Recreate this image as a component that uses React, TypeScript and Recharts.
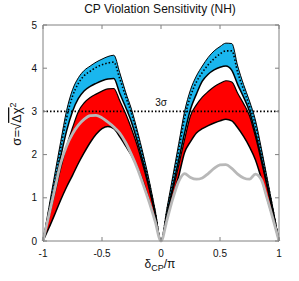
import React from 'react';
import { ComposedChart, Area, Line, XAxis, YAxis, ReferenceLine } from 'recharts';

const FONT = '"Liberation Sans", Arial, sans-serif';

// delta_CP / pi sample points
const DELTA = [
  -1, -0.95, -0.9, -0.85, -0.8, -0.75, -0.7, -0.65, -0.6, -0.55, -0.5, -0.45, -0.4, -0.35, -0.3, -0.25, -0.2,
  -0.15, -0.1, -0.05, 0, 0.05, 0.1, 0.15, 0.2, 0.25, 0.3, 0.35, 0.4, 0.45, 0.5, 0.55, 0.6, 0.65, 0.7, 0.75,
  0.8, 0.85, 0.9, 0.95, 1,
];

// upper edge of the blue band
const BLUE_TOP = [
  0, 0.78, 1.55, 2.3, 3.02, 3.5, 3.78, 3.95, 4.05, 4.14, 4.21, 4.27, 4.3, 3.9, 3.45, 3.05, 2.55, 2.0, 1.4, 0.72, 0,
  0.75, 1.5, 2.25, 3.0, 3.5, 3.82, 4.05, 4.25, 4.4, 4.5, 4.58, 4.57, 4.05, 3.62, 3.24, 2.8, 2.15, 1.45, 0.74, 0,
];

// dotted curve inside the blue band
const DOTTED = [
  0, 0.7, 1.42, 2.15, 2.85, 3.35, 3.65, 3.83, 3.93, 4.02, 4.08, 4.12, 4.14, 3.76, 3.35, 2.95, 2.46, 1.93, 1.34, 0.68, 0,
  0.7, 1.4, 2.1, 2.85, 3.35, 3.68, 3.9, 4.08, 4.22, 4.33, 4.4, 4.4, 3.9, 3.5, 3.12, 2.68, 2.06, 1.4, 0.71, 0,
];

// solid black curve = lower edge of the blue band
const BLUE_BOTTOM = [
  0, 0.65, 1.3, 1.95, 2.55, 3.0, 3.3, 3.48, 3.58, 3.65, 3.71, 3.75, 3.76, 3.42, 3.1, 2.75, 2.3, 1.8, 1.25, 0.64, 0,
  0.62, 1.25, 1.87, 2.5, 3.05, 3.4, 3.7, 3.86, 3.96, 4.02, 4.05, 3.95, 3.62, 3.33, 3.0, 2.5, 1.92, 1.3, 0.66, 0,
];

const RED_TOP = [
  0, 0.55, 1.1, 1.68, 2.2, 2.62, 3.0, 3.2, 3.32, 3.4, 3.47, 3.52, 3.53, 3.25, 2.95, 2.6, 2.2, 1.72, 1.2, 0.62, 0,
  0.58, 1.17, 1.75, 2.35, 2.9, 3.15, 3.33, 3.46, 3.57, 3.65, 3.71, 3.68, 3.42, 3.18, 2.9, 2.42, 1.85, 1.25, 0.63, 0,
];

const RED_BOTTOM = [
  0, 0.3, 0.62, 0.95, 1.25, 1.52, 1.8, 2.05, 2.28, 2.47, 2.6, 2.65, 2.6, 2.42, 2.2, 1.98, 1.7, 1.36, 0.93, 0.47, 0,
  0.5, 1.0, 1.5, 2.05, 2.3, 2.5, 2.6, 2.67, 2.73, 2.78, 2.82, 2.78, 2.62, 2.42, 2.18, 1.88, 1.45, 0.98, 0.5, 0,
];

const GRAY = [
  0, 0.6, 1.2, 1.8, 2.2, 2.48, 2.68, 2.82, 2.9, 2.91, 2.85, 2.75, 2.64, 2.5, 2.28, 2.0, 1.68, 1.3, 0.9, 0.46, 0,
  0.48, 0.98, 1.38, 1.56, 1.47, 1.43, 1.46, 1.56, 1.68, 1.76, 1.77, 1.68, 1.55, 1.46, 1.43, 1.55, 1.42, 0.98, 0.5, 0,
];

const X_TICKS = [-1, -0.5, 0, 0.5, 1];
const Y_TICKS = [0, 1, 2, 3, 4, 5];

const data = DELTA.map((x, i) => ({
  x,
  blue: [BLUE_BOTTOM[i], BLUE_TOP[i]],
  red: [RED_BOTTOM[i], RED_TOP[i]],
  blueTop: BLUE_TOP[i],
  dotted: DOTTED[i],
  blueBottom: BLUE_BOTTOM[i],
  redTop: RED_TOP[i],
  redBottom: RED_BOTTOM[i],
  gray: GRAY[i],
}));

const AXIS = '#808080';

const NoTick = () => <g />;

const YTitle = () => (
  <g transform="translate(21,124) rotate(-90)">
    <text x={0} y={0} textAnchor="middle" fontSize={13} fill="#111" fontFamily={FONT}>
      σ=√<tspan textDecoration="overline">Δχ</tspan>
      <tspan dy={-5} fontSize={9}>2</tspan>
    </text>
  </g>
);

const XTitle = () => (
  <text x={160} y={268} textAnchor="middle" fontSize={12} fill="#111" fontFamily={FONT}>
    δ<tspan dy={3} fontSize={9}>CP</tspan>
    <tspan dy={-3}>/π</tspan>
  </text>
);

export default function App() {
  return (
    <div style={{ position: 'absolute', left: 0, top: 0, width: 299, height: 281, background: '#fff', fontFamily: FONT }}>
      <div style={{ position: 'absolute', left: 21, top: 2, width: 278, textAlign: 'center', fontSize: 12, color: '#111' }}>
        CP Violation Sensitivity (NH)
      </div>
      <ComposedChart width={299} height={281} data={data} margin={{ top: 24, right: 19, bottom: 10, left: 0 }}>
        <XAxis
          dataKey="x"
          type="number"
          domain={[-1, 1]}
          ticks={X_TICKS}
          tickSize={-4}
          tickMargin={13}
          height={30}
          stroke={AXIS}
          tick={{ fill: '#111', fontSize: 10 }}
          label={{ content: () => <XTitle /> }}
        />
        <XAxis
          xAxisId="top"
          dataKey="x"
          orientation="top"
          type="number"
          domain={[-1, 1]}
          ticks={X_TICKS}
          tickSize={-4}
          height={1}
          stroke={AXIS}
          tick={NoTick}
        />
        <YAxis
          type="number"
          domain={[0, 5]}
          ticks={Y_TICKS}
          tickSize={-4}
          tickMargin={10}
          width={43}
          stroke={AXIS}
          tick={{ fill: '#111', fontSize: 10 }}
          label={{ content: () => <YTitle /> }}
        />
        <YAxis
          yAxisId="right"
          orientation="right"
          type="number"
          domain={[0, 5]}
          ticks={Y_TICKS}
          tickSize={-4}
          width={1}
          stroke={AXIS}
          tick={NoTick}
        />
        <Area dataKey="blue" type="monotone" fill="#1ab6ee" fillOpacity={1} stroke="none" isAnimationActive={false} />
        <Area dataKey="red" type="monotone" fill="#ff0000" fillOpacity={1} stroke="none" isAnimationActive={false} />
        <Line dataKey="blueTop" type="monotone" stroke="#000" strokeWidth={1} dot={false} activeDot={false} isAnimationActive={false} />
        <Line dataKey="dotted" type="monotone" stroke="#000" strokeWidth={1.6} strokeDasharray="1.5 2" dot={false} activeDot={false} isAnimationActive={false} />
        <Line dataKey="blueBottom" type="monotone" stroke="#000" strokeWidth={1.5} dot={false} activeDot={false} isAnimationActive={false} />
        <Line dataKey="redTop" type="monotone" stroke="#000" strokeWidth={1.2} dot={false} activeDot={false} isAnimationActive={false} />
        <Line dataKey="redBottom" type="monotone" stroke="#000" strokeWidth={1.5} dot={false} activeDot={false} isAnimationActive={false} />
        <Line dataKey="gray" type="monotone" stroke="#b8b8b8" strokeWidth={2.8} dot={false} activeDot={false} isAnimationActive={false} />
        {/* invisible series so the framing top / right axes get a scale */}
        <Line
          xAxisId="top"
          yAxisId="right"
          dataKey="gray"
          stroke="none"
          dot={false}
          activeDot={false}
          legendType="none"
          isAnimationActive={false}
        />
        <ReferenceLine
          y={3}
          stroke="#000"
          strokeWidth={1.6}
          strokeDasharray="1.5 2"
          label={{ value: '3σ', position: 'top', fontSize: 10, fill: '#111', fontFamily: FONT }}
        />
      </ComposedChart>
    </div>
  );
}
